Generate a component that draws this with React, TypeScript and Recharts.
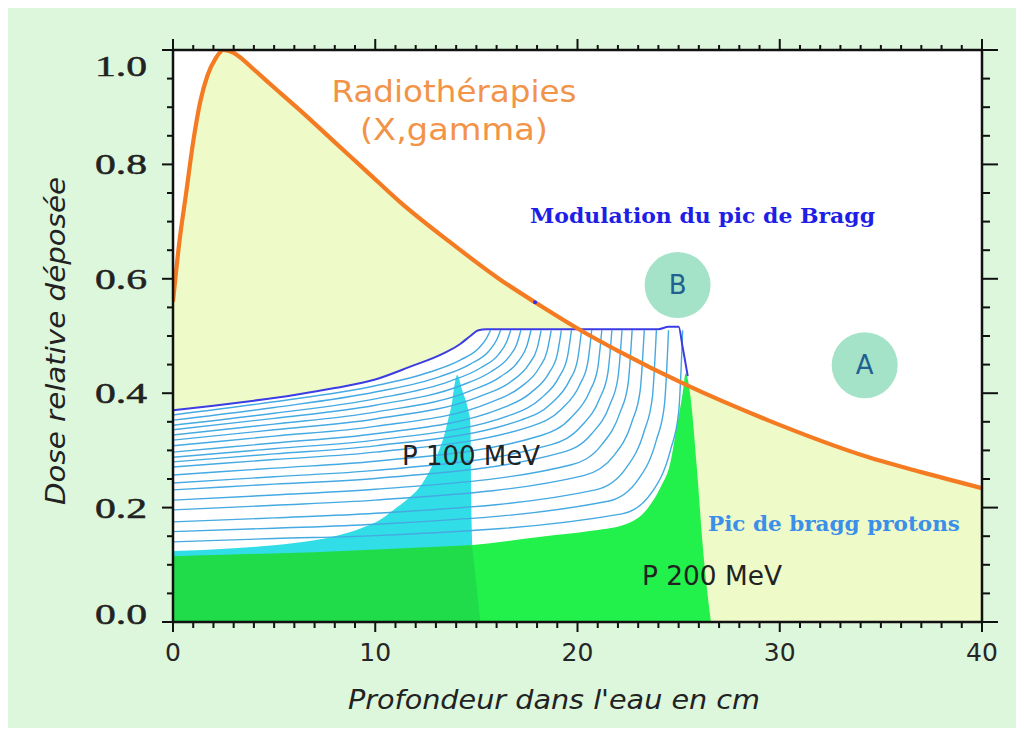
import React from 'react';
import { Area, CartesianGrid, ComposedChart, Line, ReferenceDot, XAxis, YAxis } from 'recharts';

type Pt = [number, number];

// photon beam (X, gamma) depth dose
const photonCurve: Pt[] = [
  [0, 0.56], [0.3, 0.66], [0.65, 0.75], [1.0, 0.84], [1.35, 0.91], [1.7, 0.955], [2.1, 0.985],
  [2.5, 1.0], [3.0, 0.995], [3.5, 0.982], [4.0, 0.966], [4.6, 0.947], [5.4, 0.922], [6.3, 0.894],
  [7.9, 0.842], [9.6, 0.787], [11.2, 0.735], [13.7, 0.664], [16.2, 0.598], [17.9, 0.559],
  [20.3, 0.507], [22.0, 0.474], [25.4, 0.414], [29.4, 0.353], [34.4, 0.288], [37.0, 0.262], [40, 0.234],
];

// spread-out Bragg peak, upper envelope
const sobpEnvelope: Pt[] = [
  [0, 0.37], [2, 0.378], [4, 0.387], [6, 0.397], [8, 0.409], [10, 0.424], [11.7, 0.446], [13.4, 0.47],
  [14.2, 0.486], [14.7, 0.5], [15.1, 0.51], [15.5, 0.512], [18, 0.512], [21, 0.512], [24.0, 0.512],
  [24.5, 0.516], [25.0, 0.516], [25.2, 0.48], [25.45, 0.43],
];

const p100Peak: Pt[] = [
  [0, 0.124], [3, 0.129], [6, 0.138], [8, 0.15], [9.3, 0.164], [10.3, 0.18], [10.9, 0.196], [11.6, 0.215],
  [12.2, 0.236], [12.7, 0.265], [13.1, 0.295], [13.4, 0.325], [13.6, 0.353], [13.8, 0.385], [13.9, 0.41],
  [14.05, 0.432], [14.3, 0.405], [14.6, 0.37], [14.7, 0.35], [14.75, 0.2], [14.8, 0.13], [15.2, 0],
];

const p100UnderGreen: Pt[] = [[0, 0.115], [7, 0.122], [14.7, 0.134], [14.8, 0.13], [15.2, 0]];

const p200Peak: Pt[] = [
  [0, 0.115], [5, 0.119], [10, 0.125], [14.7, 0.134], [18.2, 0.149], [20.6, 0.159], [22.3, 0.17],
  [23.5, 0.2], [24.1, 0.235], [24.6, 0.28], [24.9, 0.34], [25.2, 0.4], [25.35, 0.435], [25.45, 0.425],
  [25.6, 0.39], [25.9, 0.27], [26.2, 0.13], [26.6, 0],
];

// partial sums of the modulated peaks
const modulationCurves: Pt[][] = [
  [[0, 0.362], [5, 0.385], [10, 0.413], [12.7, 0.437], [14.2, 0.458], [15.1, 0.478], [15.5, 0.496], [15.7, 0.51]],
  [[0, 0.353], [5, 0.375], [10, 0.402], [13.2, 0.429], [14.7, 0.451], [15.6, 0.473], [16.0, 0.493], [16.2, 0.51]],
  [[0, 0.344], [5, 0.365], [10, 0.39], [13.7, 0.421], [15.2, 0.444], [16.1, 0.468], [16.5, 0.49], [16.7, 0.51]],
  [[0, 0.336], [5, 0.356], [10, 0.379], [14.2, 0.413], [15.7, 0.437], [16.6, 0.463], [17.0, 0.486], [17.2, 0.51]],
  [[0, 0.327], [5, 0.346], [10, 0.367], [14.7, 0.404], [16.2, 0.429], [17.1, 0.457], [17.5, 0.483], [17.7, 0.51]],
  [[0, 0.318], [5, 0.336], [10, 0.355], [15.2, 0.395], [16.7, 0.42], [17.6, 0.451], [18.0, 0.478], [18.2, 0.51]],
  [[0, 0.308], [5, 0.325], [10, 0.342], [15.7, 0.384], [17.2, 0.411], [18.1, 0.444], [18.5, 0.474], [18.7, 0.51]],
  [[0, 0.297], [5, 0.313], [10, 0.329], [16.2, 0.373], [17.7, 0.401], [18.6, 0.436], [19.0, 0.468], [19.2, 0.51]],
  [[0, 0.288], [5, 0.303], [10, 0.318], [16.7, 0.362], [18.2, 0.391], [19.1, 0.429], [19.5, 0.463], [19.7, 0.51]],
  [[0, 0.28], [5, 0.294], [10, 0.308], [17.2, 0.353], [18.7, 0.382], [19.6, 0.422], [20.0, 0.458], [20.2, 0.51]],
  [[0, 0.271], [5, 0.284], [10, 0.297], [17.7, 0.342], [19.2, 0.372], [20.1, 0.414], [20.5, 0.452], [20.7, 0.51]],
  [[0, 0.257], [5, 0.269], [10, 0.281], [18.2, 0.326], [19.7, 0.358], [20.6, 0.403], [21.0, 0.444], [21.2, 0.51]],
  [[0, 0.243], [5, 0.254], [10, 0.265], [18.7, 0.31], [20.2, 0.343], [21.1, 0.391], [21.5, 0.435], [21.7, 0.51]],
  [[0, 0.231], [5, 0.241], [10, 0.251], [19.2, 0.296], [20.7, 0.329], [21.6, 0.38], [22.0, 0.427], [22.2, 0.51]],
  [[0, 0.213], [5, 0.222], [10, 0.232], [19.7, 0.275], [21.2, 0.31], [22.1, 0.366], [22.5, 0.416], [22.7, 0.51]],
  [[0, 0.196], [5, 0.204], [10, 0.213], [20.3, 0.256], [21.8, 0.291], [22.7, 0.351], [23.1, 0.405], [23.3, 0.51]],
  [[0, 0.175], [5, 0.182], [10, 0.19], [20.9, 0.231], [22.4, 0.269], [23.3, 0.334], [23.7, 0.392], [23.9, 0.51]],
  [[0, 0.158], [5, 0.164], [10, 0.171], [21.5, 0.211], [23.0, 0.249], [23.9, 0.318], [24.3, 0.38], [24.5, 0.51]],
  [[0, 0.14], [5, 0.146], [10, 0.151], [22.2, 0.189], [23.7, 0.228], [24.6, 0.301], [25.0, 0.366], [25.2, 0.51]],
];

const xTicks = [
  0, 1, 2, 3, 4, 5, 6, 7, 8, 9, 10, 11, 12, 13, 14, 15, 16, 17, 18, 19, 20,
  21, 22, 23, 24, 25, 26, 27, 28, 29, 30, 31, 32, 33, 34, 35, 36, 37, 38, 39, 40,
];
const yTicks = [
  0, 0.05, 0.1, 0.15, 0.2, 0.25, 0.3, 0.35, 0.4, 0.45, 0.5, 0.55, 0.6, 0.65, 0.7, 0.75, 0.8, 0.85, 0.9, 0.95, 1,
];
const xLabels = [0, 10, 20, 30, 40];
const yLabels = [0, 0.2, 0.4, 0.6, 0.8, 1];

const toPts = (pts: Pt[]) => pts.map(([x, y]) => ({ x, y }));

const AXIS = '#111';
const isYMajor = (v: number) => yLabels.some((l) => Math.abs(l - v) < 1e-6);

const BottomTick = ({ x, y, payload }: any) => {
  const v = payload.value;
  const major = xLabels.includes(v);
  return (
    <g>
      <line x1={x} y1={y} x2={x} y2={y + (major ? 10 : 6)} stroke={AXIS} strokeWidth={2} />
      {major && (
        <text x={x} y={y + 39} textAnchor="middle" fontFamily="DejaVu Sans" fontSize={25} fill="#262626">
          {v}
        </text>
      )}
    </g>
  );
};

const TopTick = ({ x, y, payload }: any) => {
  const major = xLabels.includes(payload.value);
  return <line x1={x} y1={y} x2={x} y2={y - (major ? 11 : 5)} stroke={AXIS} strokeWidth={2} />;
};

const LeftTick = ({ x, y, payload }: any) => {
  const v = payload.value;
  const major = isYMajor(v);
  const shift = v > 0.99 ? 16 : v < 0.01 ? -8 : 0;
  return (
    <g>
      <line x1={x} y1={y} x2={x - (major ? 11 : 6)} y2={y} stroke={AXIS} strokeWidth={2} />
      {major && (
        <text
          x={x - 26}
          y={y + shift + 10}
          textAnchor="end"
          fontFamily="Liberation Serif"
          fontSize={29}
          fill="#222"
          stroke="#222"
          strokeWidth={0.5}
          textLength={52}
          lengthAdjust="spacingAndGlyphs"
        >
          {v.toFixed(1)}
        </text>
      )}
    </g>
  );
};

const RightTick = ({ x, y, payload }: any) => {
  const major = isYMajor(payload.value);
  return <line x1={x} y1={y} x2={x + (major ? 16 : 8)} y2={y} stroke={AXIS} strokeWidth={2} />;
};

const axisLine = { stroke: AXIS, strokeWidth: 2.5 };

export default function App() {
  return (
    <div style={{ position: 'relative', width: 1010, height: 720, background: '#dcf7dc' }}>
      <ComposedChart width={1010} height={720} margin={{ top: 22, right: 16, bottom: 46, left: 85 }}>
        <CartesianGrid fill="#ffffff" horizontal={false} vertical={false} />
        <XAxis
          dataKey="x"
          type="number"
          domain={[0, 40]}
          allowDataOverflow
          ticks={xTicks}
          interval={0}
          height={60}
          tickSize={0}
          tickMargin={0}
          tickLine={false}
          axisLine={axisLine}
          tick={<BottomTick />}
        />
        <XAxis
          xAxisId="top"
          orientation="top"
          dataKey="x"
          type="number"
          domain={[0, 40]}
          allowDataOverflow
          ticks={xTicks}
          interval={0}
          height={20}
          tickSize={0}
          tickMargin={0}
          tickLine={false}
          axisLine={axisLine}
          tick={<TopTick />}
        />
        <YAxis
          type="number"
          domain={[0, 1]}
          allowDataOverflow
          ticks={yTicks}
          interval={0}
          width={80}
          tickSize={0}
          tickMargin={0}
          tickLine={false}
          axisLine={axisLine}
          tick={<LeftTick />}
        />
        <YAxis
          yAxisId="right"
          orientation="right"
          type="number"
          domain={[0, 1]}
          allowDataOverflow
          ticks={yTicks}
          interval={0}
          width={20}
          tickSize={0}
          tickMargin={0}
          tickLine={false}
          axisLine={axisLine}
          tick={<RightTick />}
        />

        <Area data={toPts(photonCurve)} dataKey="y" type="monotone" stroke="none" fill="#eefbc9" fillOpacity={1} isAnimationActive={false} />
        <Area data={toPts(sobpEnvelope)} dataKey="y" type="monotone" stroke="none" fill="#ffffff" fillOpacity={1} isAnimationActive={false} />
        <Area data={toPts(p100Peak)} dataKey="y" type="monotone" stroke="none" fill="#31dde6" fillOpacity={1} isAnimationActive={false} />
        <Area data={toPts(p200Peak)} dataKey="y" type="monotone" stroke="none" fill="#22f04b" fillOpacity={1} isAnimationActive={false} />
        <Area data={toPts(p100UnderGreen)} dataKey="y" type="linear" stroke="none" fill="#20dc4b" fillOpacity={1} isAnimationActive={false} />

        {modulationCurves.map((c, i) => (
          <Line
            key={i}
            data={toPts(c)}
            dataKey="y"
            type="monotone"
            stroke="#45a9e2"
            strokeWidth={1.4}
            dot={false}
            activeDot={false}
            isAnimationActive={false}
          />
        ))}
        <Line data={toPts(sobpEnvelope)} dataKey="y" type="monotone" stroke="#3c3ce4" strokeWidth={2} dot={false} activeDot={false} isAnimationActive={false} />
        <Line data={toPts(photonCurve)} dataKey="y" type="monotone" stroke="#f47b22" strokeWidth={4.2} dot={false} activeDot={false} isAnimationActive={false} />

        <ReferenceDot x={17.9} y={0.559} r={2} fill="#3030e0" stroke="none" />
        <ReferenceDot
          x={24.95}
          y={0.589}
          r={33}
          fill="#a4e3c8"
          stroke="none"
          label={{ value: 'B', position: 'center', fill: '#22618f', fontSize: 26, fontFamily: 'DejaVu Sans' }}
        />
        <ReferenceDot
          x={34.2}
          y={0.449}
          r={33}
          fill="#a4e3c8"
          stroke="none"
          label={{ value: 'A', position: 'center', fill: '#22618f', fontSize: 26, fontFamily: 'DejaVu Sans' }}
        />
      </ComposedChart>

      <svg width={1010} height={720} style={{ position: 'absolute', left: 0, top: 0, pointerEvents: 'none' }}>
        <g fontFamily="DejaVu Sans" fill="#f29448" fontSize={31} textAnchor="middle">
          <text x={446} y={94} textLength={245} lengthAdjust="spacingAndGlyphs">Radiothérapies</text>
          <text x={446} y={132} textLength={188} lengthAdjust="spacingAndGlyphs">(X,gamma)</text>
        </g>
        <text x={522} y={215} fontFamily="DejaVu Serif" fontWeight="bold" fontSize={21} fill="#1e1ee6" textLength={345} lengthAdjust="spacingAndGlyphs">
          Modulation du pic de Bragg
        </text>
        <text x={700} y={523} fontFamily="DejaVu Serif" fontWeight="bold" fontSize={21} fill="#3b8fe8" textLength={252} lengthAdjust="spacingAndGlyphs">
          Pic de bragg protons
        </text>
        <text x={394} y={457} fontFamily="DejaVu Sans" fontSize={26} fill="#222" textLength={138} lengthAdjust="spacingAndGlyphs">
          P 100 MeV
        </text>
        <text x={634} y={577} fontFamily="DejaVu Sans" fontSize={26} fill="#222" textLength={140} lengthAdjust="spacingAndGlyphs">
          P 200 MeV
        </text>
        <text
          x={546}
          y={701}
          textAnchor="middle"
          fontFamily="DejaVu Sans"
          fontStyle="italic"
          fontSize={27}
          fill="#222"
          textLength={412}
          lengthAdjust="spacingAndGlyphs"
        >
          Profondeur dans l'eau en cm
        </text>
        <text
          transform="translate(57,333) rotate(-90)"
          textAnchor="middle"
          fontFamily="DejaVu Sans"
          fontStyle="italic"
          fontSize={27}
          fill="#222"
          textLength={328}
          lengthAdjust="spacingAndGlyphs"
        >
          Dose relative déposée
        </text>
      </svg>
    </div>
  );
}
